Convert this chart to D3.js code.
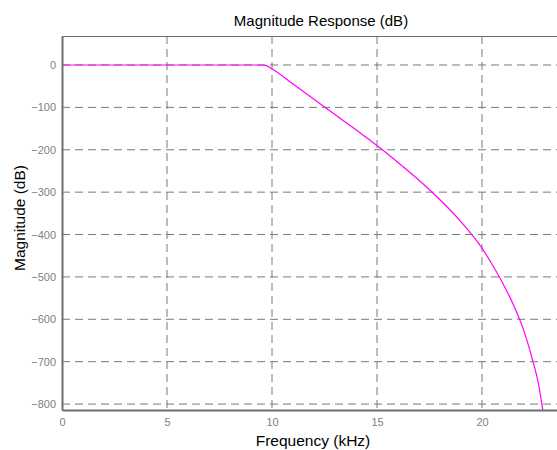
<!DOCTYPE html>
<html>
<head>
<meta charset="utf-8">
<script src="https://cdn.jsdelivr.net/npm/d3@7"></script>
<style>
  body { margin: 0; background: #fff; }
  svg { display: block; font-family: "Liberation Sans", Arial, sans-serif; }
</style>
</head>
<body>
<div id="chart"></div>
<script>
// frequency response
const freqKHz = [0, 9.5, 9.7, 10, 11, 12, 12.5, 13, 14, 15, 16, 17, 17.6, 18, 19, 20, 20.5, 21, 21.5, 22, 22.4, 22.7, 22.85, 23.0];
const magDB = [0, 0, -1, -9, -45, -81, -99, -117, -153, -190, -230, -272, -299, -318, -370, -432, -472, -516, -566, -628, -695, -755, -800, -850];
const xTicks = [0, 5, 10, 15, 20];
const yTicks = [0, -100, -200, -300, -400, -500, -600, -700, -800];

const W = 557, H = 450;
const margin = { top: 36, left: 62, bottom: 40 };
const plotW = 504; // axis runs past the right edge of the picture
const plotH = H - margin.top - margin.bottom;

const svg = d3.select("#chart").append("svg")
  .attr("width", W)
  .attr("height", H);

const x = d3.scaleLinear().domain([0, 24]).range([0, plotW]);
const y = d3.scaleLinear().domain([-814, 68.4]).range([plotH, 0]);

const g = svg.append("g")
  .attr("transform", `translate(${margin.left},${margin.top})`);

// grid
g.append("g").selectAll("line").data(xTicks.slice(1)).join("line")
  .attr("x1", d => x(d)).attr("x2", d => x(d))
  .attr("y1", 0).attr("y2", plotH)
  .attr("stroke", "#7a7a7a").attr("stroke-dasharray", "8,5");

g.append("g").selectAll("line").data(yTicks).join("line")
  .attr("x1", 0).attr("x2", plotW)
  .attr("y1", d => y(d)).attr("y2", d => y(d))
  .attr("stroke", "#7a7a7a").attr("stroke-dasharray", "8,5");

// top border
g.append("line")
  .attr("x1", 0).attr("x2", plotW).attr("y1", 0.5).attr("y2", 0.5)
  .attr("stroke", "#6e6e6e");

// curve
const line = d3.line()
  .x((d, i) => x(freqKHz[i]))
  .y(d => y(d))
  .curve(d3.curveMonotoneX);

g.append("defs").append("clipPath").attr("id", "clip")
  .append("rect").attr("width", plotW).attr("height", plotH);

g.append("path")
  .datum(magDB)
  .attr("clip-path", "url(#clip)")
  .attr("fill", "none")
  .attr("stroke", "#ff00ff")
  .attr("stroke-width", 1.2)
  .attr("d", line);

// axes
const xAxis = g.append("g")
  .attr("transform", `translate(0,${plotH})`)
  .call(d3.axisBottom(x).tickValues(xTicks).tickSize(0).tickPadding(8));
const yAxis = g.append("g")
  .call(d3.axisLeft(y).tickValues(yTicks).tickSize(0).tickPadding(6));

[xAxis, yAxis].forEach(a => {
  a.select(".domain").attr("stroke", "#6e6e6e").attr("stroke-width", 2);
  a.selectAll("text").attr("fill", "#7f7f7f").attr("font-size", 11)
    .attr("font-family", "Liberation Sans, Arial, sans-serif");
});

// labels
svg.append("text")
  .attr("x", 321).attr("y", 26)
  .attr("text-anchor", "middle")
  .attr("font-size", 15)
  .text("Magnitude Response (dB)");

svg.append("text")
  .attr("x", 313).attr("y", 446)
  .attr("text-anchor", "middle")
  .attr("font-size", 15.5)
  .text("Frequency (kHz)");

svg.append("text")
  .attr("transform", `translate(25,218) rotate(-90)`)
  .attr("text-anchor", "middle")
  .attr("font-size", 15.5)
  .text("Magnitude (dB)");
</script>
</body>
</html>
